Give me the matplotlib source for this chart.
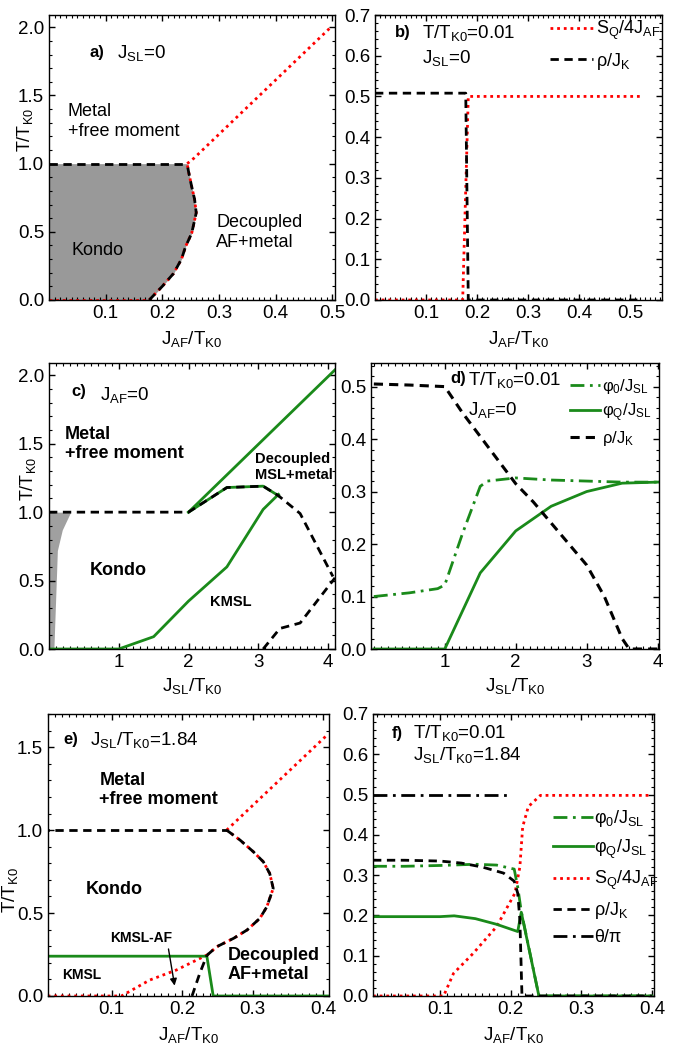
import numpy as np
import matplotlib
matplotlib.use('Agg')
import matplotlib.pyplot as plt
from matplotlib.ticker import AutoMinorLocator

plt.rcParams['font.family'] = ['Liberation Sans', 'DejaVu Sans']
plt.rcParams['mathtext.fontset'] = 'custom'
plt.rcParams['mathtext.rm'] = 'Liberation Sans'
plt.rcParams['mathtext.it'] = 'Liberation Sans:italic'
plt.rcParams['mathtext.bf'] = 'Liberation Sans:bold'

RED = '#ff0000'
GREEN = '#1a8a1a'
GREY = '#999999'
DASH = (0, (3, 2))
DOT = (0, (1, 1.4))
DASHDOT = (0, (5, 2, 1, 2))


def sub(s):
    return r'$_{\mathregular{%s}}$' % s


# ---------- panel a: J_SL = 0 phase diagram ----------
a_bnd_x = [0.177, 0.200, 0.220, 0.234, 0.241, 0.252, 0.260, 0.257, 0.252, 0.246, 0.244]
a_bnd_y = [0.0, 0.10, 0.195, 0.30, 0.39, 0.49, 0.64, 0.74, 0.83, 0.95, 1.0]
a_top_x = [0.0, 0.244]
a_top_y = [1.0, 1.0]
a_red_x = [0.0, 0.177]
a_red_y = [0.0, 0.0]
a_redtop_x = [0.244, 0.256, 0.50]
a_redtop_y = [1.0, 1.04, 2.01]

# ---------- panel b: T/TK0=0.01, J_SL=0 ----------
b_rho_x = [0.0, 0.178, 0.183, 0.52]
b_rho_y = [0.508, 0.508, 0.0, 0.0]
b_sq_x = [0.0, 0.172, 0.183, 0.52]
b_sq_y = [0.0, 0.0, 0.50, 0.50]

# ---------- panel c: J_AF = 0 phase diagram ----------
c_kmsl_x = [0.0, 1.0, 1.5, 2.0, 2.55, 3.07, 3.29]
c_kmsl_y = [0.0, 0.0, 0.09, 0.35, 0.60, 1.02, 1.13]
c_msl_x = [2.0, 4.1]
c_msl_y = [1.0, 2.04]
c_dec_x = [2.0, 2.55, 3.07, 3.29]
c_dec_y = [1.0, 1.18, 1.19, 1.12]
c_rho_x = [0.0, 2.0, 2.55, 3.07, 3.29, 3.6, 4.07]
c_rho_y = [1.0, 1.0, 1.18, 1.19, 1.12, 0.99, 0.53]
c_rho2_x = [3.07, 3.31, 3.6, 4.1]
c_rho2_y = [0.0, 0.15, 0.19, 0.52]
c_grey_x = [0.07, 0.12, 0.19, 0.31]
c_grey_y = [0.0, 0.72, 0.87, 1.0]

# ---------- panel d: T/TK0=0.01, J_AF=0 ----------
d_phi0_x = [0.0, 0.5, 0.9, 1.0, 1.25, 1.5, 1.6, 2.0, 2.5, 3.0, 3.5, 4.0]
d_phi0_y = [0.100, 0.107, 0.115, 0.122, 0.22, 0.31, 0.32, 0.326, 0.322, 0.320, 0.318, 0.318]
d_phiq_x = [0.0, 1.0, 1.5, 1.75, 2.0, 2.5, 3.0, 3.5, 4.0]
d_phiq_y = [0.0, 0.0, 0.145, 0.185, 0.225, 0.272, 0.300, 0.316, 0.318]
d_rho_x = [0.0, 0.5, 1.0, 1.25, 1.5, 1.75, 2.0, 2.25, 2.5, 2.75, 3.0, 3.25, 3.5, 3.6, 4.0]
d_rho_y = [0.505, 0.503, 0.50, 0.45, 0.405, 0.36, 0.315, 0.28, 0.24, 0.20, 0.16, 0.10, 0.02, 0.0, 0.0]

# ---------- panel e: J_SL/TK0 = 1.84 phase diagram ----------
e_kmsl_x = [0.0, 0.235, 0.244, 0.41]
e_kmsl_y = [0.24, 0.24, 0.0, 0.0]
e_red_x = [0.0, 0.114, 0.154, 0.192, 0.235]
e_red_y = [0.0, 0.0, 0.096, 0.157, 0.247]
e_bnd_x = [0.235, 0.249, 0.273, 0.292, 0.310, 0.320, 0.329, 0.324, 0.315, 0.301, 0.282, 0.263]
e_bnd_y = [0.245, 0.297, 0.348, 0.398, 0.468, 0.538, 0.649, 0.739, 0.809, 0.869, 0.94, 1.0]
e_top_x = [0.0, 0.263]
e_top_y = [1.0, 1.0]
e_redtop_x = [0.263, 0.407]
e_redtop_y = [1.0, 1.58]
e_af_x = [0.214, 0.225, 0.235]
e_af_y = [0.0, 0.137, 0.245]

# ---------- panel f: T/TK0=0.01, J_SL/TK0=1.84 ----------
f_theta_x = [0.005, 0.20]
f_theta_y = [0.498, 0.498]
f_sq_x = [0.005, 0.105, 0.119, 0.147, 0.180, 0.206, 0.213, 0.217, 0.225, 0.242, 0.40]
f_sq_y = [0.0, 0.0, 0.056, 0.106, 0.172, 0.255, 0.32, 0.42, 0.47, 0.498, 0.498]
f_phi0_x = [0.005, 0.05, 0.10, 0.15, 0.18, 0.205, 0.210, 0.215, 0.24, 0.40]
f_phi0_y = [0.322, 0.322, 0.324, 0.327, 0.325, 0.315, 0.27, 0.21, 0.0, 0.0]
f_phiq_x = [0.005, 0.05, 0.10, 0.12, 0.15, 0.18, 0.21, 0.215, 0.24, 0.40]
f_phiq_y = [0.197, 0.197, 0.197, 0.199, 0.192, 0.178, 0.160, 0.208, 0.0, 0.0]
f_rho_x = [0.005, 0.05, 0.10, 0.13, 0.16, 0.19, 0.205, 0.210, 0.213, 0.216, 0.40]
f_rho_y = [0.337, 0.337, 0.335, 0.330, 0.320, 0.305, 0.285, 0.255, 0.19, 0.0, 0.0]

fig = plt.figure(figsize=(6.84, 10.45), dpi=100)
W, H = 684.0, 1045.0


def make_ax(l, r, t, b):
    return fig.add_axes([l / W, 1 - b / H, (r - l) / W, (b - t) / H])


axa = make_ax(49, 335, 15, 300)
axb = make_ax(375, 662, 15, 300)
axc = make_ax(49, 335, 363, 649)
axd = make_ax(371, 659, 363, 649)
axe = make_ax(48, 329, 714, 996)
axf = make_ax(373, 654, 714, 996)

FS = 13.5
for ax in [axa, axb, axc, axd, axe, axf]:
    ax.tick_params(which='both', direction='in', top=True, right=True, labelsize=FS)
    ax.tick_params(which='major', length=4, width=1)
    ax.tick_params(which='minor', length=2, width=0.8)
    for s in ax.spines.values():
        s.set_linewidth(1)

jaf = 'J' + sub('AF') + '/T' + sub('K0')
jsl = 'J' + sub('SL') + '/T' + sub('K0')
tlab = 'T/T' + sub('K0')

# panel a
axa.fill_betweenx(a_bnd_y, 0, a_bnd_x, color=GREY, lw=0)
axa.plot(a_red_x, a_red_y, color=RED, ls=DOT, lw=2)
axa.plot(a_bnd_x, a_bnd_y, color=RED, ls=DOT, lw=2)
axa.plot(a_redtop_x, a_redtop_y, color=RED, ls=DOT, lw=2)
axa.plot(a_top_x, a_top_y, color='k', ls=DASH, lw=2)
axa.plot(a_bnd_x, a_bnd_y, color='k', ls=DASH, lw=2)
axa.set_xlim(0, 0.505)
axa.set_ylim(0, 2.09)
axa.set_xticks([0.1, 0.2, 0.3, 0.4, 0.5])
axa.set_yticks([0, 0.5, 1.0, 1.5, 2.0])
axa.set_xlabel(jaf, fontsize=FS, labelpad=5)
axa.set_ylabel(tlab, fontsize=13)
axa.yaxis.set_label_coords(-0.05, 0.598)
axa.text(0.143, 0.867, 'a)', transform=axa.transAxes, fontsize=12, fontweight='bold', va='center')
axa.text(0.238, 0.867, 'J' + sub('SL') + '=0', transform=axa.transAxes, fontsize=FS, va='center')
axa.text(0.066, 0.626, 'Metal\n+free moment', transform=axa.transAxes, fontsize=13, va='center')
axa.text(0.08, 0.175, 'Kondo', transform=axa.transAxes, fontsize=13, va='center')
axa.text(0.584, 0.237, 'Decoupled\nAF+metal', transform=axa.transAxes, fontsize=13, va='center')

# panel b
axb.plot(b_sq_x, b_sq_y, color=RED, ls=DOT, lw=2, label=r'$\mathregular{S_Q/4J_{AF}}$')
axb.plot(b_rho_x, b_rho_y, color='k', ls=DASH, lw=2, label='ρ/J' + sub('K'))
axb.set_xlim(0, 0.563)
axb.set_ylim(0, 0.7)
axb.set_xticks([0.1, 0.2, 0.3, 0.4, 0.5])
axb.set_yticks(np.arange(0, 0.71, 0.1))
axb.set_xlabel(jaf, fontsize=FS, labelpad=5)
axb.legend(loc='upper left', bbox_to_anchor=(0.61, 0.985), frameon=False, fontsize=13,
           handlelength=2.4, handletextpad=0.15, borderpad=0, borderaxespad=0, labelspacing=0.45)
axb.text(0.07, 0.937, 'b)', transform=axb.transAxes, fontsize=12, fontweight='bold', va='center')
axb.text(0.163, 0.937, 'T/T' + sub('K0') + '=0.01', transform=axb.transAxes, fontsize=FS, va='center')
axb.text(0.163, 0.849, 'J' + sub('SL') + '=0', transform=axb.transAxes, fontsize=FS, va='center')

# panel c
axc.fill_betweenx(c_grey_y, 0, c_grey_x, color='#a0a0a0', lw=0)
axc.plot(c_kmsl_x, c_kmsl_y, color=GREEN, lw=2)
axc.plot(c_msl_x, c_msl_y, color=GREEN, lw=2)
axc.plot(c_dec_x, c_dec_y, color=GREEN, lw=2)
axc.plot(c_rho_x, c_rho_y, color='k', ls=DASH, lw=2)
axc.plot(c_rho2_x, c_rho2_y, color='k', ls=DASH, lw=2)
axc.set_xlim(0, 4.1)
axc.set_ylim(0, 2.09)
axc.set_xticks([1, 2, 3, 4])
axc.set_xticklabels(['1', '2', '3', '4'])
axc.set_yticks([0, 0.5, 1.0, 1.5, 2.0])
axc.set_xlabel(jsl, fontsize=FS, labelpad=4)
axc.set_ylabel(tlab, fontsize=13)
axc.yaxis.set_label_coords(-0.04, 0.595)
axc.text(0.079, 0.90, 'c)', transform=axc.transAxes, fontsize=12, fontweight='bold', va='center')
axc.text(0.178, 0.889, 'J' + sub('AF') + '=0', transform=axc.transAxes, fontsize=FS, va='center')
axc.text(0.056, 0.717, 'Metal\n+free moment', transform=axc.transAxes, fontsize=13,
         fontweight='bold', va='center')
axc.text(0.143, 0.276, 'Kondo', transform=axc.transAxes, fontsize=13, fontweight='bold', va='center')
axc.text(0.563, 0.165, 'KMSL', transform=axc.transAxes, fontsize=10.5, fontweight='bold', va='center')
axc.text(0.72, 0.635, 'Decoupled\nMSL+metal', transform=axc.transAxes, fontsize=10.5,
         fontweight='bold', va='center')

# panel d
axd.plot(d_phi0_x, d_phi0_y, color=GREEN, ls=DASHDOT, lw=2, label='φ' + sub('0') + '/J' + sub('SL'))
axd.plot(d_phiq_x, d_phiq_y, color=GREEN, lw=2, label='φ' + sub('Q') + '/J' + sub('SL'))
axd.plot(d_rho_x, d_rho_y, color='k', ls=DASH, lw=2.2, label='ρ/J' + sub('K'))
axd.set_xlim(-0.04, 4.02)
axd.set_ylim(0, 0.545)
axd.set_xticks([1, 2, 3, 4])
axd.set_xticklabels(['1', '2', '3', '4'])
axd.set_yticks(np.arange(0, 0.51, 0.1))
axd.set_xlabel(jsl, fontsize=FS, labelpad=4)
axd.legend(loc='upper left', bbox_to_anchor=(0.69, 0.95), frameon=False, fontsize=12,
           handlelength=1.8, handletextpad=0.15, borderpad=0, borderaxespad=0, labelspacing=0.3)
axd.text(0.274, 0.947, 'd)', transform=axd.transAxes, fontsize=12, fontweight='bold', va='center')
axd.text(0.337, 0.94, 'T/T' + sub('K0') + '=0.01', transform=axd.transAxes, fontsize=FS, va='center')
axd.text(0.337, 0.836, 'J' + sub('AF') + '=0', transform=axd.transAxes, fontsize=FS, va='center')

# panel e
axe.plot(e_red_x, e_red_y, color=RED, ls=DOT, lw=2)
axe.plot(e_bnd_x, e_bnd_y, color=RED, ls=DOT, lw=2)
axe.plot(e_redtop_x, e_redtop_y, color=RED, ls=DOT, lw=2)
axe.plot(e_kmsl_x, e_kmsl_y, color=GREEN, lw=2)
axe.plot(e_top_x, e_top_y, color='k', ls=DASH, lw=2)
axe.plot(e_bnd_x, e_bnd_y, color='k', ls=DASH, lw=2)
axe.plot(e_af_x, e_af_y, color='k', ls=DASH, lw=2)
axe.annotate('', xy=(0.190, 0.046), xytext=(0.180, 0.30),
             arrowprops=dict(arrowstyle='-|>', color='k', lw=1, mutation_scale=10))
axe.set_xlim(0.01, 0.408)
axe.set_ylim(0, 1.70)
axe.set_xticks([0.1, 0.2, 0.3, 0.4])
axe.set_yticks([0, 0.5, 1.0, 1.5])
axe.set_xlabel(jaf, fontsize=FS, labelpad=5)
axe.set_ylabel(tlab, fontsize=FS)
axe.yaxis.set_label_coords(-0.10, 0.376)
axe.text(0.054, 0.908, 'e)', transform=axe.transAxes, fontsize=12, fontweight='bold', va='center')
axe.text(0.149, 0.908, jsl + '=1.84', transform=axe.transAxes, fontsize=FS, va='center')
axe.text(0.183, 0.73, 'Metal\n+free moment', transform=axe.transAxes, fontsize=13,
         fontweight='bold', va='center')
axe.text(0.135, 0.376, 'Kondo', transform=axe.transAxes, fontsize=13, fontweight='bold', va='center')
axe.text(0.049, 0.074, 'KMSL', transform=axe.transAxes, fontsize=10, fontweight='bold', va='center')
axe.text(0.22, 0.206, 'KMSL-AF', transform=axe.transAxes, fontsize=10, fontweight='bold', va='center')
axe.text(0.639, 0.11, 'Decoupled\nAF+metal', transform=axe.transAxes, fontsize=13,
         fontweight='bold', va='center')

# panel f
axf.plot(f_theta_x, f_theta_y, color='k', ls=DASHDOT, lw=2)
axf.plot(f_sq_x, f_sq_y, color=RED, ls=DOT, lw=2)
axf.plot(f_phi0_x, f_phi0_y, color=GREEN, ls=DASHDOT, lw=2)
axf.plot(f_phiq_x, f_phiq_y, color=GREEN, lw=2)
axf.plot(f_rho_x, f_rho_y, color='k', ls=DASH, lw=2)
h_phi0, = axf.plot([], [], color=GREEN, ls=DASHDOT, lw=2)
h_phiq, = axf.plot([], [], color=GREEN, lw=2)
h_sq, = axf.plot([], [], color=RED, ls=DOT, lw=2)
h_rho, = axf.plot([], [], color='k', ls=DASH, lw=2)
h_theta, = axf.plot([], [], color='k', ls=DASHDOT, lw=2)
axf.legend([h_phi0, h_phiq, h_sq, h_rho, h_theta],
           ['φ' + sub('0') + '/J' + sub('SL'), 'φ' + sub('Q') + '/J' + sub('SL'),
            r'$\mathregular{S_Q/4J_{AF}}$', 'ρ/J' + sub('K'), 'θ/π'],
           loc='upper left', bbox_to_anchor=(0.64, 0.665), frameon=False, fontsize=13,
           handlelength=2.2, handletextpad=0.1, borderpad=0, borderaxespad=0, labelspacing=0.45)
axf.set_xlim(0.005, 0.403)
axf.set_ylim(0, 0.7)
axf.set_xticks([0.1, 0.2, 0.3, 0.4])
axf.set_yticks(np.arange(0, 0.71, 0.1))
axf.set_xlabel(jaf, fontsize=FS, labelpad=5)
axf.text(0.067, 0.932, 'f)', transform=axf.transAxes, fontsize=12, fontweight='bold', va='center')
axf.text(0.143, 0.932, 'T/T' + sub('K0') + '=0.01', transform=axf.transAxes, fontsize=FS, va='center')
axf.text(0.143, 0.855, jsl + '=1.84', transform=axf.transAxes, fontsize=FS, va='center')

for ax, nx, ny in [(axa, 10, 5), (axb, 10, 5), (axc, 10, 5), (axd, 10, 5), (axe, 10, 5), (axf, 10, 5)]:
    ax.xaxis.set_minor_locator(AutoMinorLocator(nx))
    ax.yaxis.set_minor_locator(AutoMinorLocator(ny))

fig.savefig('out.png', dpi=100)
